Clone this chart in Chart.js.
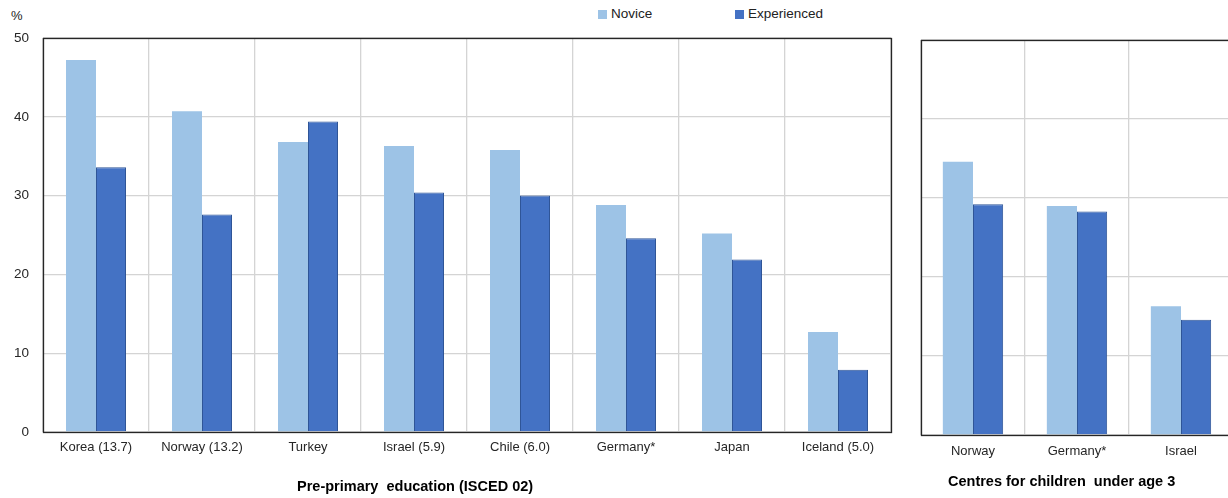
<!DOCTYPE html>
<html>
<head>
<meta charset="utf-8">
<script src="https://cdn.jsdelivr.net/npm/chart.js@4.4.1/dist/chart.umd.min.js"></script>
<style>
    html, body { margin: 0; padding: 0; background: #fff; overflow: hidden; }
    body { width: 1228px; height: 498px; position: relative; font-family: 'Liberation Sans', Arial, sans-serif; color: #222; }
    .txt { position: absolute; font-size: 13px; white-space: nowrap; }
    .title { position: absolute; font-size: 14.5px; font-weight: bold; color: #000; white-space: nowrap; }
    .sw { position: absolute; width: 9px; height: 9px; }
    #wrapMain { position: absolute; left: 0; top: 0; width: 900px; height: 498px; }
    #wrapSide { position: absolute; left: 900px; top: 0; width: 340px; height: 498px; }
</style>
</head>
<body>
<div class="txt" style="left:11px; top:8px;">%</div>

<div class="sw" style="left:598px; top:10px; background:#9dc3e6;"></div>
<div class="txt" style="left:611px; top:6px; font-size:13.5px;">Novice</div>
<div class="sw" style="left:735px; top:10px; background:#4472c4;"></div>
<div class="txt" style="left:748px; top:6px; font-size:13.5px;">Experienced</div>

<div id="wrapMain"><canvas id="main_chart"></canvas></div>
<div id="wrapSide"><canvas id="side_chart"></canvas></div>

<div class="title" style="left:297px; top:478px;">Pre-primary&nbsp; education (ISCED 02)</div>
<div class="title" style="left:948px; top:473px;">Centres for children&nbsp; under age 3</div>

<script>
// Pre-primary education (ISCED 02)
const preCountries = ['Korea (13.7)', 'Norway (13.2)', 'Turkey', 'Israel (5.9)', 'Chile (6.0)', 'Germany*', 'Japan', 'Iceland (5.0)']
const preNovice = [47.2, 40.7, 36.8, 36.3, 35.8, 28.8, 25.2, 12.7]
const preExperienced = [33.6, 27.6, 39.4, 30.4, 30.0, 24.6, 21.9, 7.9]

// Centres for children under age 3
const under3Countries = ['Norway', 'Germany*', 'Israel']
const under3Novice = [34.6, 29.0, 16.3]
const under3Experienced = [29.2, 28.3, 14.6]

const yTicks = [0, 10, 20, 30, 40, 50]

const NOVICE = '#9dc3e6'
const EXPERIENCED = '#4472c4'
const EXP_BORDER = '#2f5597'
const GRID = '#d4d4d4'

// draws the dark box round the plot area
const boxPlugin = {
    id: 'box',
    afterDraw(chart) {
        const a = chart.chartArea
        const c = chart.ctx
        c.save()
        c.strokeStyle = '#262626'
        c.lineWidth = 1.3
        c.strokeRect(Math.round(a.left) + 0.5, Math.round(a.top) + 0.5, Math.round(a.right - a.left), Math.round(a.bottom - a.top))
        c.restore()
    }
}

function makeConfig(labels, novice, experienced, opts) {
    return {
        type: 'bar',
        data: {
            labels: labels,
            datasets: [
                {
                    label: 'Novice',
                    data: novice,
                    backgroundColor: NOVICE,
                    borderWidth: 0,
                    categoryPercentage: opts.catPct,
                    barPercentage: 1.0
                },
                {
                    label: 'Experienced',
                    data: experienced,
                    backgroundColor: EXPERIENCED,
                    borderColor: EXP_BORDER,
                    borderWidth: 1,
                    categoryPercentage: opts.catPct,
                    barPercentage: 1.0
                }
            ]
        },
        options: {
            responsive: false,
            animation: false,
            layout: { padding: { top: opts.top, right: opts.right, left: 0, bottom: 0 } },
            plugins: {
                legend: { display: false },
                tooltip: { enabled: false }
            },
            scales: {
                x: {
                    grid: { color: GRID, lineWidth: 1.3, drawTicks: false, offset: true },
                    border: { display: false },
                    ticks: {
                        color: '#262626',
                        font: { family: 'Liberation Sans', size: 13 },
                        padding: opts.xPad,
                        maxRotation: 0,
                        autoSkip: false
                    },
                    afterFit: (s) => { s.height = opts.xHeight }
                },
                y: {
                    min: 0,
                    max: 50,
                    afterBuildTicks: (s) => { s.ticks = yTicks.map(v => ({ value: v })) },
                    grid: { color: GRID, lineWidth: 1.3, drawTicks: false },
                    border: { display: false },
                    ticks: {
                        display: opts.showY,
                        color: '#262626',
                        font: { family: 'Liberation Sans', size: 13.5 },
                        padding: 14
                    },
                    afterFit: (s) => { s.width = opts.yWidth }
                }
            }
        },
        plugins: [boxPlugin]
    }
}

function setup(id, w, h) {
    const cv = document.getElementById(id)
    cv.width = w
    cv.height = h
    cv.style.width = w + 'px'
    cv.style.height = h + 'px'
    return cv.getContext('2d')
}

new Chart(setup('main_chart', 900, 498), makeConfig(preCountries, preNovice, preExperienced, {
    catPct: 0.566, top: 38, right: 9, xHeight: 66, yWidth: 43, xPad: 8, showY: true
}))

new Chart(setup('side_chart', 340, 498), makeConfig(under3Countries, under3Novice, under3Experienced, {
    catPct: 0.58, top: 40, right: 7, xHeight: 63, yWidth: 21, xPad: 9, showY: false
}))
</script>
</body>
</html>
